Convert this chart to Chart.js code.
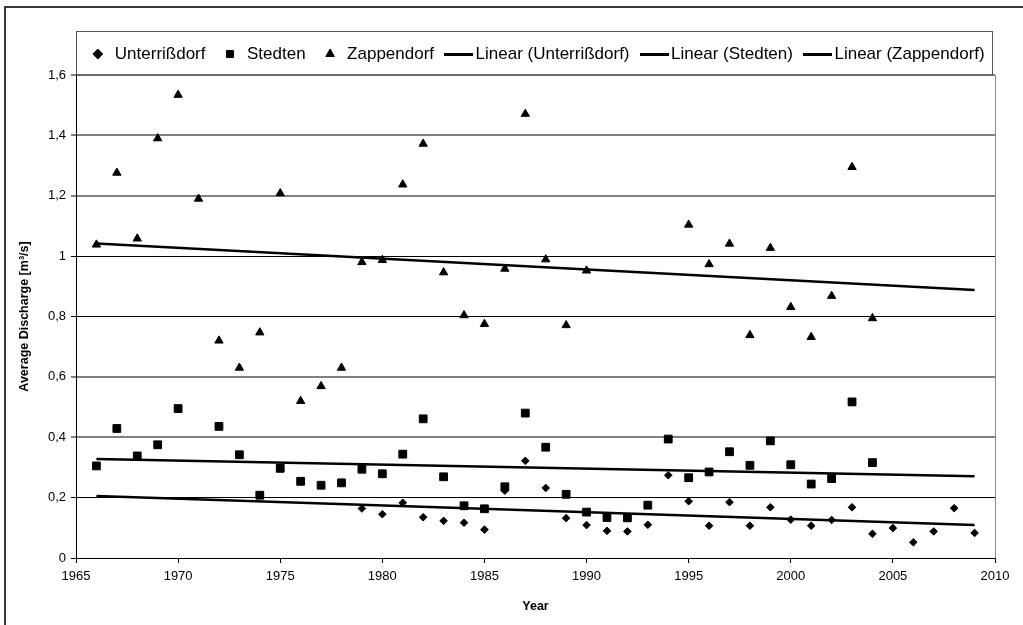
<!DOCTYPE html>
<html>
<head>
<meta charset="utf-8">
<script src="https://cdn.jsdelivr.net/npm/chart.js@4"></script>
<style>
html,body{margin:0;padding:0;background:#fff;}
canvas{display:block;}
</style>
</head>
<body>
<canvas id="c" width="1023" height="625"></canvas>
<script>
// ---- data ----
const unterYears = [1979,1980,1981,1982,1983,1984,1985,1986,1987,1988,1989,1990,1991,1992,1993,1994,1995,1996,1997,1998,1999,2000,2001,2002,2003,2004,2005,2006,2007,2008,2009];
const unterValues = [0.164,0.145,0.183,0.135,0.123,0.117,0.094,0.223,0.322,0.232,0.132,0.109,0.090,0.088,0.110,0.274,0.188,0.107,0.185,0.107,0.168,0.127,0.107,0.126,0.168,0.080,0.099,0.052,0.088,0.165,0.083];

const stedtenYears = [1966,1967,1968,1969,1970,1972,1973,1974,1975,1976,1977,1978,1979,1980,1981,1982,1983,1984,1985,1986,1987,1988,1989,1990,1991,1992,1993,1994,1995,1996,1997,1998,1999,2000,2001,2002,2003,2004];
const stedtenValues = [0.305,0.429,0.338,0.375,0.495,0.436,0.342,0.208,0.297,0.254,0.241,0.249,0.294,0.279,0.344,0.461,0.269,0.173,0.163,0.236,0.480,0.367,0.211,0.152,0.134,0.133,0.175,0.394,0.266,0.285,0.352,0.307,0.388,0.309,0.245,0.263,0.517,0.316];

const zappYears = [1966,1967,1968,1969,1970,1971,1972,1973,1974,1975,1976,1977,1978,1979,1980,1981,1982,1983,1984,1985,1986,1987,1988,1989,1990,1995,1996,1997,1998,1999,2000,2001,2002,2003,2004];
const zappValues = [1.038,1.276,1.058,1.390,1.534,1.190,0.720,0.630,0.747,1.208,0.520,0.569,0.630,0.980,0.987,1.237,1.372,0.946,0.804,0.775,0.958,1.471,0.989,0.771,0.952,1.104,0.973,1.041,0.738,1.027,0.831,0.732,0.868,1.295,0.794];

// linear trend lines (end points)
const trendYears = [1966, 2009];
const unterTrend = [0.205, 0.109];
const stedtenTrend = [0.328, 0.271];
const zappTrend = [1.042, 0.888];

// axis ticks
const xTickMin = 1965, xTickMax = 2010, xTickStep = 5;
const yTickMin = 0, yTickMax = 1.6, yTickStep = 0.2;

// ---- styling ----
const FONT = "'Liberation Sans', Arial, sans-serif";
const softGridValues = [0.4, 0.6, 1.2, 1.4, 1.6];

function pts(xs, ys) { return xs.map((x, i) => ({ x: x, y: ys[i] })); }

function lineGlyph() {
  const c = document.createElement('canvas');
  c.width = 29; c.height = 3;
  const g = c.getContext('2d');
  g.fillStyle = '#000';
  g.fillRect(0, 0, 29, 3);
  return c;
}
const lineImg = lineGlyph();

const framePlugin = {
  id: 'frame',
  beforeDraw(chart) {
    const ctx = chart.ctx;
    ctx.save();
    ctx.fillStyle = '#fff';
    ctx.fillRect(0, 0, chart.width, chart.height);
    ctx.restore();
  },
  afterDraw(chart) {
    const ctx = chart.ctx, a = chart.chartArea;
    ctx.save();
    ctx.strokeStyle = '#3a3a3a';
    ctx.lineWidth = 2;
    ctx.strokeRect(5, 7, chart.width + 40, chart.height + 40);
    ctx.strokeStyle = '#555';
    ctx.lineWidth = 1;
    ctx.strokeRect(a.left + 0.5, 31.5, a.right - a.left - 3, a.top - 31.5);
    ctx.restore();
  }
};

const legendFix = {
  id: 'legendFix',
  beforeLayout(chart) {
    const lg = chart.legend;
    if (lg && !lg._fixedFit) {
      const f = lg.fit;
      lg.fit = function () { f.call(this); this.height += 2.5; };
      lg._fixedFit = true;
    }
  },
  afterLayout(chart) {
    const lg = chart.legend, a = chart.chartArea;
    if (!lg) return;
    lg.left = a.left - 12;
    lg.right = a.right + 15;
    lg.width = lg.right - lg.left;
  }
};

const markerBase = { backgroundColor: '#000', borderColor: '#000', borderWidth: 1 };
const trendBase = { showLine: true, pointRadius: 0, borderColor: '#000', backgroundColor: '#000', borderWidth: 2.5, fill: false };

new Chart(document.getElementById('c'), {
  type: 'scatter',
  data: {
    datasets: [
      Object.assign({ label: 'Unterrißdorf', data: pts(unterYears, unterValues), pointStyle: 'rectRot', pointRadius: 3.8 }, markerBase),
      Object.assign({ label: 'Stedten', data: pts(stedtenYears, stedtenValues), pointStyle: 'rect', pointRadius: 5.5 }, markerBase),
      Object.assign({ label: 'Zappendorf', data: pts(zappYears, zappValues), pointStyle: 'triangle', pointRadius: 4.8 }, markerBase),
      Object.assign({ label: 'Linear (Unterrißdorf)', data: pts(trendYears, unterTrend) }, trendBase),
      Object.assign({ label: 'Linear (Stedten)', data: pts(trendYears, stedtenTrend) }, trendBase),
      Object.assign({ label: 'Linear (Zappendorf)', data: pts(trendYears, zappTrend) }, trendBase)
    ]
  },
  options: {
    responsive: false,
    animation: false,
    events: [],
    layout: { padding: { top: 29.5, right: 28, bottom: 0, left: 0 } },
    plugins: {
      tooltip: { enabled: false },
      legend: {
        position: 'top',
        align: 'center',
        labels: {
          usePointStyle: true,
          boxHeight: 7,
          boxWidth: 17,
          padding: 16,
          color: '#000',
          font: { family: FONT, size: 17 },
          generateLabels(chart) {
            const items = Chart.defaults.plugins.legend.labels.generateLabels(chart);
            items.forEach(it => {
              if (chart.data.datasets[it.datasetIndex].showLine) it.pointStyle = lineImg;
            });
            return items;
          }
        }
      }
    },
    scales: {
      x: {
        type: 'linear',
        min: xTickMin,
        max: xTickMax,
        ticks: {
          stepSize: xTickStep,
          padding: 6,
          color: '#000',
          font: { family: FONT, size: 13 },
          callback: v => String(v)
        },
        grid: {
          drawOnChartArea: true,
          color: c => (c.tick && c.tick.value === xTickMax) ? '#8a8a8a' : 'rgba(0,0,0,0)',
          lineWidth: 1,
          tickLength: 5,
          tickColor: '#000',
          tickWidth: 1
        },
        border: { color: '#000', width: 1 },
        title: {
          display: true,
          text: 'Year',
          color: '#000',
          font: { family: FONT, size: 12.5, weight: 'bold' },
          padding: { top: 0, bottom: 11 }
        },
        afterFit(s) { s.height = 67; }
      },
      y: {
        min: yTickMin,
        max: yTickMax,
        ticks: {
          stepSize: yTickStep,
          padding: 5,
          color: '#000',
          font: { family: FONT, size: 13 },
          callback: v => String(Math.round(v * 10) / 10).replace('.', ',')
        },
        grid: {
          color: c => {
            const r = c.tick ? Math.round(c.tick.value * 10) / 10 : -1;
            return softGridValues.includes(r) ? '#808080' : '#000';
          },
          lineWidth: c => {
            const r = c.tick ? Math.round(c.tick.value * 10) / 10 : -1;
            return softGridValues.includes(r) ? 2 : 1;
          },
          tickLength: 5,
          tickColor: '#000',
          tickWidth: 1
        },
        border: { color: '#000', width: 1 },
        title: {
          display: true,
          text: 'Average Discharge [m³/s]',
          color: '#000',
          font: { family: FONT, size: 12.5, weight: 'bold' },
          padding: { top: 17.5, bottom: 0 }
        },
        afterFit(s) { s.width = 76; }
      }
    }
  },
  plugins: [framePlugin, legendFix]
});
</script>
</body>
</html>
